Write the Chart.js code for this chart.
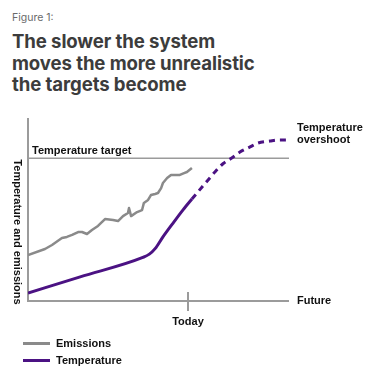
<!DOCTYPE html>
<html>
<head>
<meta charset="utf-8">
<script src="https://cdn.jsdelivr.net/npm/chart.js@4/dist/chart.umd.min.js"></script>
<style>
  html, body { margin: 0; padding: 0; background: #ffffff; }
  body { width: 377px; height: 379px; position: relative; overflow: hidden; }
  #fig { position: absolute; left: 12px; top: 11px; font-family: Inter, "Open Sans", sans-serif; font-size: 10.5px; color: #6a6a6a; }
  #title { position: absolute; left: 12px; top: 31px; font-family: Inter, "Open Sans", sans-serif; font-weight: 700; font-size: 18.6px; line-height: 21.5px; color: #3c3c3c; letter-spacing: -0.1px; }
  #wrap { position: absolute; left: 0; top: 0; width: 377px; height: 379px; }
  .leg { position: absolute; left: 23px; font-family: "Liberation Sans", Arial, sans-serif; font-weight: 700; font-size: 11px; color: #111; height: 14px; line-height: 14px; }
  .leg span.sw { position: absolute; left: 0; top: 6px; width: 27px; height: 3px; }
  .leg span.tx { position: absolute; left: 33px; top: 0; white-space: nowrap; }
</style>
</head>
<body>
<div id="fig">Figure 1:</div>
<div id="title">The slower the system<br>moves the more unrealistic<br>the targets become</div>
<div id="wrap"><canvas id="c" width="377" height="379"></canvas></div>
<div class="leg" style="top:336px"><span class="sw" style="background:#8a8a8a"></span><span class="tx">Emissions</span></div>
<div class="leg" style="top:353px"><span class="sw" style="background:#4b1283"></span><span class="tx">Temperature</span></div>
<script>
// ---- data (relative units) ----
const seriesNames = ["Emissions", "Temperature"];
const todayX = 61.3;
const solidEndX = 62.8;
const targetLevel = 78;
const emissionsX = [0, 6.5, 9.2, 13.0, 14.9, 16.9, 19.2, 20.7, 22.6, 24.5, 26.8, 29.5, 32.6, 34.5, 36.4, 38.3, 38.7, 39.5, 41.8, 43.7, 44.4, 46.0, 47.1, 48.7, 49.8, 51.0, 51.7, 53.3, 54.8, 58.2, 59.8, 60.9, 62.8];
const emissionsY = [25.1, 28.4, 30.6, 34.4, 35.0, 36.1, 37.7, 37.7, 36.6, 38.8, 41.0, 44.8, 44.3, 43.7, 46.4, 48.1, 50.8, 46.4, 48.6, 49.7, 53.6, 55.2, 57.9, 58.5, 59.0, 61.7, 64.5, 67.2, 68.9, 68.9, 69.9, 70.5, 72.7];
const temperatureX = [0, 20, 44, 46.5, 48.7, 51.7, 55.6, 59.4, 62.8, 66.7, 69.0, 71.6, 74.7, 78.2, 81.2, 85.1, 88.1, 92.7, 96.6, 99.2];
const temperatureY = [4.4, 13.2, 23.8, 25.6, 28.6, 35.0, 42.6, 49.8, 55.7, 62.3, 66.1, 70.5, 75.0, 78.3, 81.4, 84.2, 86.3, 87.4, 88.0, 88.0];
const axisLabels = { target: "Temperature target", today: "Today", future: "Future", overshoot: ["Temperature", "overshoot"], yTitle: "Temperature and emissions" };

const toPts = (xs, ys) => xs.map((x, i) => ({ x: x, y: ys[i] }));

const GRAY = '#9b9b9b';
const LABEL_FONT = 'bold 11px "Liberation Sans", Arial, sans-serif';

const decor = {
  id: 'decor',
  beforeDatasetsDraw(chart) {
    const { ctx, scales: { x, y } } = chart;
    const x0 = x.getPixelForValue(0), x1 = x.getPixelForValue(100);
    const y0 = y.getPixelForValue(0), yTop = y.getPixelForValue(100);
    const yT = y.getPixelForValue(targetLevel);
    const xT = x.getPixelForValue(todayX);
    ctx.save();
    ctx.strokeStyle = GRAY;
    ctx.lineWidth = 1.5;
    ctx.beginPath(); ctx.moveTo(x0, yT); ctx.lineTo(x1, yT); ctx.stroke();
    ctx.lineWidth = 2;
    ctx.beginPath(); ctx.moveTo(x0, yTop); ctx.lineTo(x0, y0); ctx.lineTo(x1, y0); ctx.stroke();
    ctx.beginPath(); ctx.moveTo(xT, y0 - 9); ctx.lineTo(xT, y0 + 10); ctx.stroke();
    ctx.restore();
  },
  afterDraw(chart) {
    const { ctx, scales: { x, y } } = chart;
    const x0 = x.getPixelForValue(0), x1 = x.getPixelForValue(100);
    const y0 = y.getPixelForValue(0);
    const yT = y.getPixelForValue(targetLevel);
    const xT = x.getPixelForValue(todayX);
    const yO = y.getPixelForValue(88);
    ctx.save();
    ctx.fillStyle = '#111';
    ctx.font = LABEL_FONT;
    ctx.textBaseline = 'middle';
    ctx.textAlign = 'left';
    ctx.fillText(axisLabels.target, x0 + 4, yT - 7);
    ctx.fillText(axisLabels.future, x1 + 8, y0);
    ctx.fillText(axisLabels.overshoot[0], x1 + 8, yO - 12);
    ctx.fillText(axisLabels.overshoot[1], x1 + 8, yO);
    ctx.textAlign = 'center';
    ctx.fillText(axisLabels.today, xT, y0 + 21);
    ctx.translate(x0 - 11, y0 - 69);
    ctx.rotate(Math.PI / 2);
    ctx.fillText(axisLabels.yTitle, 0, 0);
    ctx.restore();
  }
};

new Chart(document.getElementById('c'), {
  type: 'line',
  data: {
    datasets: [
      {
        label: seriesNames[0],
        data: toPts(emissionsX, emissionsY),
        borderColor: '#8a8a8a',
        borderWidth: 2.5,
        pointRadius: 0,
        tension: 0,
        borderJoinStyle: 'round',
        fill: false
      },
      {
        label: seriesNames[1],
        data: toPts(temperatureX, temperatureY),
        borderColor: '#4b1283',
        borderWidth: 3,
        pointRadius: 0,
        cubicInterpolationMode: 'monotone',
        fill: false,
        segment: {
          borderDash: c => (c.p0.parsed.x >= solidEndX - 0.01 ? [6, 5] : undefined)
        }
      }
    ]
  },
  options: {
    responsive: false,
    animation: false,
    layout: { padding: { left: 28, right: 88, top: 118, bottom: 78 } },
    scales: {
      x: { type: 'linear', min: 0, max: 100, display: false },
      y: { type: 'linear', min: 0, max: 100, display: false }
    },
    plugins: { legend: { display: false }, tooltip: { enabled: false } }
  },
  plugins: [decor]
});
</script>
</body>
</html>
